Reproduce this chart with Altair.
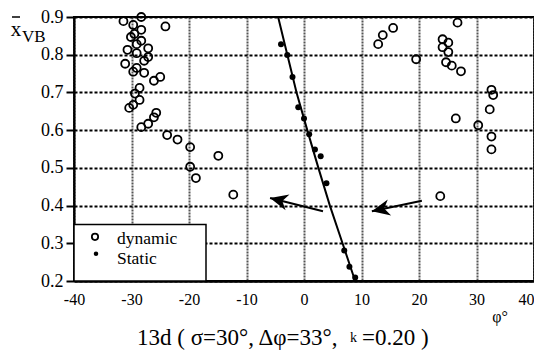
import altair as alt
import pandas as pd

# ---- data ----
dyn_phi = [-31.4, -29.7, -28.3, -28.3, -29.5, -30.1, -28.3, -29.1, -27.1, -30.7,
           -29.1, -27.1, -27.8, -31.1, -29.1, -29.7, -27.8, -25.0, -26.1, -24.1,
           -28.6, -29.4, -28.6, -29.7, -30.4, -25.7, -26.1, -27.1, -28.3, -23.8,
           -22.0, -19.8, -19.8, -18.8, -14.9, -12.3,
           12.9, 13.7, 15.5, 19.5, 26.7, 24.1, 25.1, 24.1, 25.1, 24.7,
           25.7, 27.3, 32.6, 32.9, 32.3, 26.4, 30.3, 32.6, 32.6, 23.7]
dyn_xvb = [0.889, 0.879, 0.900, 0.866, 0.855, 0.847, 0.837, 0.828, 0.817, 0.813,
           0.804, 0.794, 0.784, 0.776, 0.765, 0.755, 0.752, 0.741, 0.731, 0.875,
           0.712, 0.697, 0.680, 0.667, 0.659, 0.646, 0.634, 0.617, 0.608, 0.587,
           0.575, 0.555, 0.503, 0.473, 0.532, 0.429,
           0.828, 0.852, 0.871, 0.788, 0.885, 0.841, 0.832, 0.820, 0.807, 0.780,
           0.771, 0.756, 0.707, 0.693, 0.655, 0.631, 0.613, 0.583, 0.549, 0.425]

stat_phi = [-4.0, -2.9, -2.0, -1.0, 0.0, 0.9, 1.9, 2.9, 3.9, 7.0, 7.9, 8.9]
stat_xvb = [0.828, 0.799, 0.741, 0.661, 0.631, 0.589, 0.549, 0.531, 0.459, 0.281, 0.238, 0.209]

line_phi = [-4.5, -2.9, -1.3, 0.57, 2.5, 4.5, 6.7, 8.9]
line_xvb = [0.9, 0.8, 0.7, 0.6, 0.5, 0.4, 0.3, 0.2]

arrow_tail_phi = [3.3, 20.5]
arrow_tail_xvb = [0.385, 0.413]
arrow_tip_phi = [-5.9, 11.8]
arrow_tip_xvb = [0.420, 0.385]
arrow_angle = [284, 258]

x_ticks = [-40, -30, -20, -10, 0, 10, 20, 30, 40]
y_ticks = [0.2, 0.3, 0.4, 0.5, 0.6, 0.7, 0.8, 0.9]

legend_labels = ["dynamic", "Static"]
title_parts = ["13d ( σ=30°, Δφ=33°,", "k", "=0.20 )"]

FONT = "Times New Roman, Liberation Serif, DejaVu Serif, serif"
W, H = 460, 264


def ypx(v):
    # pixel position inside the plot for a y value (layout helper for decorations)
    return (0.9 - v) / 0.7 * H


dyn = pd.DataFrame({"phi": dyn_phi, "xvb": dyn_xvb})
stat = pd.DataFrame({"phi": stat_phi, "xvb": stat_xvb})
line = pd.DataFrame({"phi": line_phi, "xvb": line_xvb})
arr = pd.DataFrame({"phi": arrow_tail_phi, "xvb": arrow_tail_xvb,
                    "phi2": arrow_tip_phi, "xvb2": arrow_tip_xvb,
                    "ang": arrow_angle})
one = pd.DataFrame({"k": [0]})

xscale = alt.Scale(domain=[-40, 40], nice=False, zero=False)
yscale = alt.Scale(domain=[0.2, 0.9], nice=False, zero=False)
xaxis = alt.Axis(values=x_ticks, title=None, grid=True, gridColor="#555555",
                 gridDash=[2, 1], gridWidth=2, ticks=False, labelFont=FONT,
                 labelFontSize=16, labelColor="black", labelPadding=10,
                 labelFlush=False, labelExpr="'' + datum.value",
                 labelAlign={"condition": {"test": "datum.value >= 40", "value": "right"},
                             "value": "center"},
                 domainColor="black", domainWidth=2.5)
yaxis = alt.Axis(values=y_ticks, format=".1f", title=None, grid=True,
                 gridColor="black", gridDash=[3, 2], gridWidth=2,
                 tickColor="black", tickWidth=2, tickSize=8, labelFont=FONT,
                 labelFontSize=18, labelColor="black", labelPadding=3,
                 labelFlush=False, domainColor="black", domainWidth=2)


def X(f):
    return alt.X(f, type="quantitative", scale=xscale, axis=xaxis)


def Y(f):
    return alt.Y(f, type="quantitative", scale=yscale, axis=yaxis)


legend_box = alt.Chart(one).mark_rect(fill="white", stroke="black", strokeWidth=1.5).encode(
    x=alt.value(0), x2=alt.value(132), y=alt.value(ypx(0.35)), y2=alt.value(H))

static_line = alt.Chart(line).mark_line(color="black", strokeWidth=2).encode(
    x=X("phi"), y=Y("xvb"), order=alt.Order("xvb", sort="descending"))

shafts = alt.Chart(arr).mark_rule(color="black", strokeWidth=2).encode(
    x=X("phi"), y=Y("xvb"), x2="phi2", y2="xvb2")

heads = alt.Chart(arr).mark_point(
    shape="M0,0 L0.45,1 L0,0.7 L-0.45,1 Z", size=1296, filled=True,
    color="black", opacity=1).encode(
    x=X("phi2"), y=Y("xvb2"), angle=alt.Angle("ang:Q", scale=None))

dyn_pts = alt.Chart(dyn).mark_point(shape="circle", size=64, color="black",
                                    strokeWidth=1.8, filled=False, opacity=1).encode(
    x=X("phi"), y=Y("xvb"))

stat_pts = alt.Chart(stat).mark_point(shape="circle", size=36, color="black",
                                      filled=True, opacity=1).encode(
    x=X("phi"), y=Y("xvb"))


def txt(s, x, y, size, align="left", baseline="alphabetic"):
    return alt.Chart(one).mark_text(font=FONT, fontSize=size, align=align,
                                    baseline=baseline, color="black").encode(
        x=alt.value(x), y=alt.value(y), text=alt.value(s))


leg_circle = alt.Chart(one).mark_point(shape="circle", size=40, color="black",
                                       strokeWidth=1.8, filled=False, opacity=1).encode(
    x=alt.value(21), y=alt.value(ypx(0.317)))
leg_dot = alt.Chart(one).mark_point(shape="circle", size=20, color="black",
                                    filled=True, opacity=1).encode(
    x=alt.value(22), y=alt.value(ypx(0.272)))

macron = alt.Chart(one).mark_rule(color="black", strokeWidth=1.5).encode(
    x=alt.value(-62), x2=alt.value(-54), y=alt.value(0))

texts = [
    txt(legend_labels[0], 43, ypx(0.297), 17.5),
    txt(legend_labels[1], 43, ypx(0.244), 17.5),
    txt("x", -58, 19, 21, align="center"),
    txt("VB", -52, 25, 17),
    txt("φ°", 426, 305, 16, align="center"),
    txt(title_parts[0], 63, 328, 23),
    txt(title_parts[1], 276, 325, 14),
    txt(title_parts[2], 288, 328, 23),
]

chart = alt.layer(legend_box, static_line, shafts, heads, dyn_pts, stat_pts,
                  leg_circle, leg_dot, macron, *texts).properties(
    width=W, height=H,
    autosize=alt.AutoSizeParams(type="none"),
    padding={"left": 66, "top": 9, "right": 0, "bottom": 71},
    background="white",
).configure_view(stroke="black", strokeWidth=2)

chart.save("out.html", embed_options={"renderer": "svg", "actions": False})
